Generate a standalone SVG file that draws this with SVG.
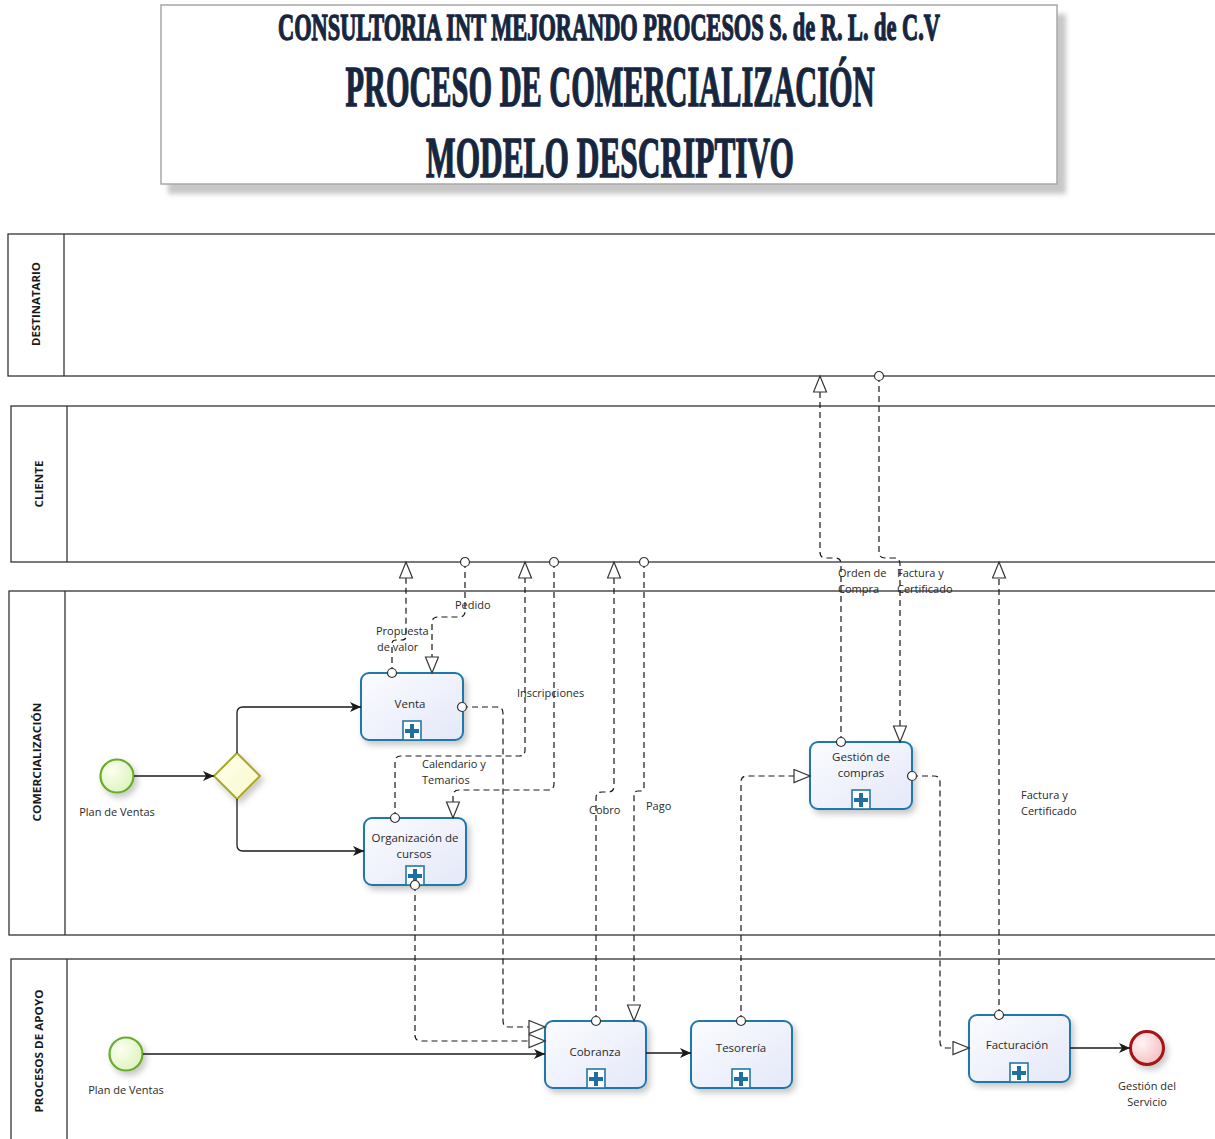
<svg xmlns="http://www.w3.org/2000/svg" width="1215" height="1139" viewBox="0 0 1215 1139">
  <style>
    .lane { fill: #ffffff; stroke: #333333; stroke-width: 1.3; }
    .lanetxt { font-family: "Open Sans", "DejaVu Sans", sans-serif; font-weight: bold; font-size: 11px; fill: #1a1a1a; text-anchor: middle; }
    .title { font-family: "Liberation Serif", "DejaVu Serif", serif; font-weight: bold; fill: #17263f; stroke: #17263f; stroke-width: 1.4; text-anchor: middle; }
    .task { fill: url(#taskFill); stroke: #2277aa; stroke-width: 2; }
    .tasktxt { font-family: "Open Sans", "DejaVu Sans", sans-serif; font-size: 11.5px; fill: #2a2a2a; text-anchor: middle; }
    .lbl { font-family: "Open Sans", "DejaVu Sans", sans-serif; font-size: 11px; fill: #2a2a2a; }
    .lblc { font-family: "Open Sans", "DejaVu Sans", sans-serif; font-size: 11px; fill: #2a2a2a; text-anchor: middle; }
    .seq { fill: none; stroke: #1a1a1a; stroke-width: 1.3; marker-end: url(#seqArrow); }
    .msg { fill: none; stroke: #1a1a1a; stroke-width: 1.2; stroke-dasharray: 6 4; marker-start: url(#msgStart); marker-end: url(#msgEnd); }
    .marker { fill: #ffffff; stroke: #2277aa; stroke-width: 1.6; }
    .plus { fill: #1f6f9f; }
  </style>
  <defs>
    <linearGradient id="taskFill" x1="0" y1="0" x2="1" y2="1">
      <stop offset="0" stop-color="#fbfcff"/>
      <stop offset="1" stop-color="#e4e8f8"/>
    </linearGradient>
    <radialGradient id="startFill" cx="0.35" cy="0.35" r="0.8">
      <stop offset="0" stop-color="#fbfff0"/>
      <stop offset="1" stop-color="#d9f2b8"/>
    </radialGradient>
    <radialGradient id="endFill" cx="0.35" cy="0.35" r="0.8">
      <stop offset="0" stop-color="#fff4f4"/>
      <stop offset="1" stop-color="#f2b8bc"/>
    </radialGradient>
    <linearGradient id="gwFill" x1="0" y1="0" x2="1" y2="1">
      <stop offset="0" stop-color="#ffffec"/>
      <stop offset="1" stop-color="#f8f8cc"/>
    </linearGradient>
    <filter id="shadow" x="-20%" y="-20%" width="150%" height="160%">
      <feDropShadow dx="3" dy="4" stdDeviation="3" flood-color="#000000" flood-opacity="0.22"/>
    </filter>
    <filter id="boxShadow" x="-5%" y="-10%" width="110%" height="130%">
      <feGaussianBlur stdDeviation="2.5"/>
    </filter>
    <marker id="seqArrow" markerUnits="userSpaceOnUse" markerWidth="14" markerHeight="12" refX="11" refY="5" orient="auto">
      <path d="M0,0 L11,5 L0,10 L3,5 z" fill="#1a1a1a"/>
    </marker>
    <marker id="msgEnd" markerUnits="userSpaceOnUse" markerWidth="20" markerHeight="16" refX="17" refY="7" orient="auto">
      <path d="M1,0.5 L17,7 L1,13.5 z" fill="#ffffff" stroke="#333333" stroke-width="1.2"/>
    </marker>
    <marker id="msgStart" markerUnits="userSpaceOnUse" markerWidth="12" markerHeight="12" refX="6" refY="6" orient="auto">
      <circle cx="6" cy="6" r="4.5" fill="#ffffff" stroke="#333333" stroke-width="1.2"/>
    </marker>
  </defs>

  <rect width="1215" height="1139" fill="#ffffff"/>

  <!-- Title block -->
  <g id="title">
    <rect x="168" y="14" width="898" height="180" fill="#9a9a9a" opacity="0.55" filter="url(#boxShadow)"/>
    <rect x="161" y="5" width="896" height="179" fill="#ffffff" stroke="#a8a8a8" stroke-width="1.5"/>
    <text class="title" transform="translate(609,40) scale(0.58,1)" x="0" y="0" font-size="38" stroke-width="0.7" textLength="1141" lengthAdjust="spacingAndGlyphs">CONSULTORIA INT MEJORANDO PROCESOS S. de R. L. de C.V</text>
    <text class="title" transform="translate(610,106) scale(0.535,1)" x="0" y="0" font-size="56" textLength="989" lengthAdjust="spacingAndGlyphs">PROCESO DE COMERCIALIZACIÓN</text>
    <text class="title" transform="translate(610,177) scale(0.55,1)" x="0" y="0" font-size="57" textLength="669" lengthAdjust="spacingAndGlyphs">MODELO DESCRIPTIVO</text>
  </g>

  <!-- Swimlanes -->
  <g id="lane-destinatario">
    <rect class="lane" x="8" y="234" width="1220" height="142"/>
    <line x1="64" y1="234" x2="64" y2="376" stroke="#333333" stroke-width="1.3"/>
    <text class="lanetxt" transform="translate(40,304) rotate(-90)" textLength="84" lengthAdjust="spacingAndGlyphs">DESTINATARIO</text>
  </g>
  <g id="lane-cliente">
    <rect class="lane" x="11" y="406" width="1220" height="156"/>
    <line x1="67" y1="406" x2="67" y2="562" stroke="#333333" stroke-width="1.3"/>
    <text class="lanetxt" transform="translate(43,484) rotate(-90)" textLength="47" lengthAdjust="spacingAndGlyphs">CLIENTE</text>
  </g>
  <g id="lane-comercializacion">
    <rect class="lane" x="9" y="591" width="1220" height="344"/>
    <line x1="65" y1="591" x2="65" y2="935" stroke="#333333" stroke-width="1.3"/>
    <text class="lanetxt" transform="translate(41,762) rotate(-90)" textLength="119" lengthAdjust="spacingAndGlyphs">COMERCIALIZACIÓN</text>
  </g>
  <g id="lane-apoyo">
    <rect class="lane" x="11" y="959" width="1220" height="190"/>
    <line x1="67" y1="959" x2="67" y2="1139" stroke="#333333" stroke-width="1.3"/>
    <text class="lanetxt" transform="translate(43,1051) rotate(-90)" textLength="123" lengthAdjust="spacingAndGlyphs">PROCESOS DE APOYO</text>
  </g>

  <!-- Events and gateway -->
  <g id="start-comercializacion">
    <circle cx="117" cy="776" r="16.5" fill="url(#startFill)" stroke="#6aac2c" stroke-width="2.2" filter="url(#shadow)"/>
    <text class="lblc" x="117" y="816">Plan de Ventas</text>
  </g>
  <g id="gateway">
    <polygon points="237,753 260,776 237,799 214,776" fill="url(#gwFill)" stroke="#a9a82a" stroke-width="2" filter="url(#shadow)"/>
  </g>
  <g id="start-apoyo">
    <circle cx="126" cy="1054" r="16.5" fill="url(#startFill)" stroke="#6aac2c" stroke-width="2.2" filter="url(#shadow)"/>
    <text class="lblc" x="126" y="1094">Plan de Ventas</text>
  </g>
  <g id="end-event">
    <circle cx="1147" cy="1048" r="16.5" fill="url(#endFill)" stroke="#a31419" stroke-width="3" filter="url(#shadow)"/>
    <text class="lblc" x="1147" y="1090">Gestión del</text>
    <text class="lblc" x="1147" y="1106">Servicio</text>
  </g>

  <!-- Sub-process tasks -->
  <g id="task-venta">
    <rect class="task" x="361" y="673" width="102" height="67" rx="8" filter="url(#shadow)"/>
    <text class="tasktxt" x="410" y="708">Venta</text>
    <rect class="marker" x="403" y="721" width="18" height="19"/>
    <path class="plus" d="M410,724 h4 v5 h5 v4 h-5 v5 h-4 v-5 h-5 v-4 h5 z"/>
  </g>
  <g id="task-organizacion">
    <rect class="task" x="364" y="818" width="102" height="67" rx="8" filter="url(#shadow)"/>
    <text class="tasktxt" x="415" y="842">Organización de</text>
    <text class="tasktxt" x="414" y="858">cursos</text>
    <rect class="marker" x="406" y="866" width="18" height="19"/>
    <path class="plus" d="M413,869 h4 v5 h5 v4 h-5 v5 h-4 v-5 h-5 v-4 h5 z"/>
  </g>
  <g id="task-cobranza">
    <rect class="task" x="545" y="1021" width="101" height="67" rx="8" filter="url(#shadow)"/>
    <text class="tasktxt" x="595" y="1056">Cobranza</text>
    <rect class="marker" x="587" y="1069" width="18" height="19"/>
    <path class="plus" d="M594,1072 h4 v5 h5 v4 h-5 v5 h-4 v-5 h-5 v-4 h5 z"/>
  </g>
  <g id="task-tesoreria">
    <rect class="task" x="691" y="1021" width="101" height="67" rx="8" filter="url(#shadow)"/>
    <text class="tasktxt" x="741" y="1052">Tesorería</text>
    <rect class="marker" x="732" y="1069" width="18" height="19"/>
    <path class="plus" d="M739,1072 h4 v5 h5 v4 h-5 v5 h-4 v-5 h-5 v-4 h5 z"/>
  </g>
  <g id="task-gestion-compras">
    <rect class="task" x="810" y="742" width="102" height="67" rx="8" filter="url(#shadow)"/>
    <text class="tasktxt" x="861" y="761">Gestión de</text>
    <text class="tasktxt" x="861" y="777">compras</text>
    <rect class="marker" x="852" y="790" width="18" height="19"/>
    <path class="plus" d="M859,793 h4 v5 h5 v4 h-5 v5 h-4 v-5 h-5 v-4 h5 z"/>
  </g>
  <g id="task-facturacion">
    <rect class="task" x="969" y="1015" width="101" height="67" rx="8" filter="url(#shadow)"/>
    <text class="tasktxt" x="1017" y="1049">Facturación</text>
    <rect class="marker" x="1010" y="1063" width="18" height="19"/>
    <path class="plus" d="M1017,1066 h4 v5 h5 v4 h-5 v5 h-4 v-5 h-5 v-4 h5 z"/>
  </g>

  <!-- Connectors (drawn over the shapes so the source circles stay whole) -->
  <g id="connectors">
    <!-- sequence flows -->
    <path class="seq" d="M134,776 H214"/>
    <path class="seq" d="M237,753 V713 Q237,707 243,707 H361"/>
    <path class="seq" d="M237,799 V845 Q237,851 243,851 H364"/>
    <path class="seq" d="M143,1054 H545"/>
    <path class="seq" d="M646,1053 H691"/>
    <path class="seq" d="M1070,1048 H1130"/>

    <!-- message flows -->
    <path class="msg" d="M392,673 V644 Q392,640 396,640 H402 Q406,640 406,636 V562"/>
    <path class="msg" d="M465,562 V611 Q465,617 459,617 H438 Q432,617 432,623 V673"/>
    <path class="msg" d="M395,818 V762 Q395,756 401,756 H519 Q525,756 525,750 V562"/>
    <path class="msg" d="M554,562 V784 Q554,790 548,790 H459 Q453,790 453,796 V818"/>
    <path class="msg" d="M462,707 H497 Q503,707 503,713 V1021 Q503,1027 509,1027 H545"/>
    <path class="msg" d="M415,885 V1035 Q415,1041 421,1041 H545"/>
    <path class="msg" d="M596,1021 V798 Q596,792 602,792 H608 Q614,792 614,786 V562"/>
    <path class="msg" d="M644,562 V787 Q644,791 640,791 H638 Q634,791 634,795 V1021"/>
    <path class="msg" d="M741,1021 V782 Q741,776 747,776 H810"/>
    <path class="msg" d="M841,742 V564 Q841,558 835,558 H826 Q820,558 820,552 V376"/>
    <path class="msg" d="M879,376 V552 Q879,558 885,558 H894 Q900,558 900,564 V742"/>
    <path class="msg" d="M912,776 H934 Q940,776 940,782 V1042 Q940,1048 946,1048 H969"/>
    <path class="msg" d="M999,1015 V562"/>

    <!-- flow labels -->
    <text class="lbl" x="376" y="635">Propuesta</text>
    <text class="lbl" x="377" y="651">de valor</text>
    <text class="lbl" x="455" y="609">Pedido</text>
    <text class="lbl" x="517" y="697">Inscripciones</text>
    <text class="lbl" x="422" y="768">Calendario y</text>
    <text class="lbl" x="422" y="784">Temarios</text>
    <text class="lbl" x="589" y="814">Cobro</text>
    <text class="lbl" x="646" y="810">Pago</text>
    <text class="lbl" x="838" y="577">Orden de</text>
    <text class="lbl" x="838" y="593">Compra</text>
    <text class="lbl" x="897" y="577">Factura y</text>
    <text class="lbl" x="897" y="593">Certificado</text>
    <text class="lbl" x="1021" y="799">Factura y</text>
    <text class="lbl" x="1021" y="815">Certificado</text>
  </g>
</svg>
